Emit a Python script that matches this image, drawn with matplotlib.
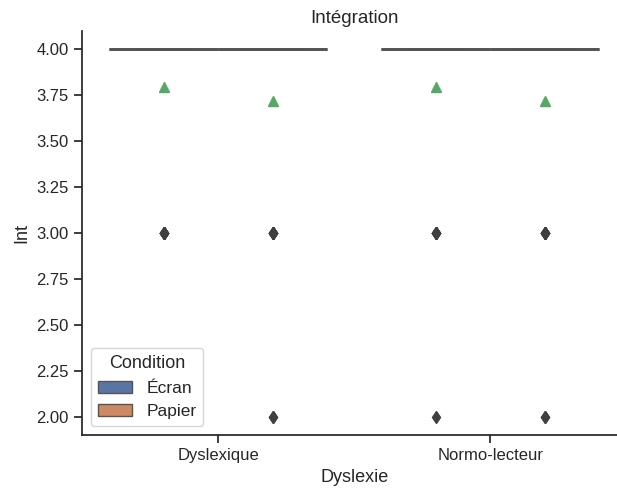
import numpy as np
import pandas as pd
import matplotlib
matplotlib.use("Agg")
import matplotlib.pyplot as plt
import seaborn as sns

# Int scores per group
dys_ecran = [4] * 31 + [3] * 8
dys_papier = [4] * 30 + [3] * 7 + [2] * 2
nor_ecran = [4] * 32 + [3] * 6 + [2] * 1
nor_papier = [4] * 30 + [3] * 7 + [2] * 2

groups = ["Dyslexique", "Normo-lecteur"]
conditions = ["Écran", "Papier"]

rows = []
for g, c, vals in [("Dyslexique", "Écran", dys_ecran),
                   ("Dyslexique", "Papier", dys_papier),
                   ("Normo-lecteur", "Écran", nor_ecran),
                   ("Normo-lecteur", "Papier", nor_papier)]:
    for v in vals:
        rows.append({"Dyslexie": g, "Condition": c, "Int": v})
df = pd.DataFrame(rows)

sns.set_theme(style="ticks")
plt.rcParams["font.family"] = ["Liberation Sans", "DejaVu Sans"]
plt.rcParams.update({"xtick.labelsize": 12, "ytick.labelsize": 12,
                     "axes.labelsize": 13, "axes.titlesize": 13.5,
                     "legend.fontsize": 12.5, "legend.title_fontsize": 13})

fig = plt.figure(figsize=(6.17, 4.9), dpi=100)
# the original is cropped on the right, so the axes run past the figure edge
ax = fig.add_axes([0.133, 0.112, 0.882, 0.825])

sns.boxplot(data=df, x="Dyslexie", y="Int", hue="Condition",
            order=groups, hue_order=conditions, ax=ax, width=0.8,
            showmeans=True, linecolor="#555555", linewidth=2,
            medianprops=dict(color="#555555", linewidth=2),
            meanprops=dict(marker="^", markerfacecolor="#55a868",
                           markeredgecolor="#55a868", markersize=7),
            flierprops=dict(marker="d", markerfacecolor="#3f3f3f",
                            markeredgecolor="#3f3f3f", markersize=6))

ax.set_yticks(np.arange(2.0, 4.01, 0.25))
ax.set_yticklabels([f"{t:.2f}" for t in np.arange(2.0, 4.01, 0.25)])
ax.set_title("Intégration")
sns.despine(ax=ax)
leg = ax.legend(title="Condition", loc="lower left")
for h in leg.legend_handles:
    h.set_linewidth(1)

fig.savefig("out.png", dpi=100)
